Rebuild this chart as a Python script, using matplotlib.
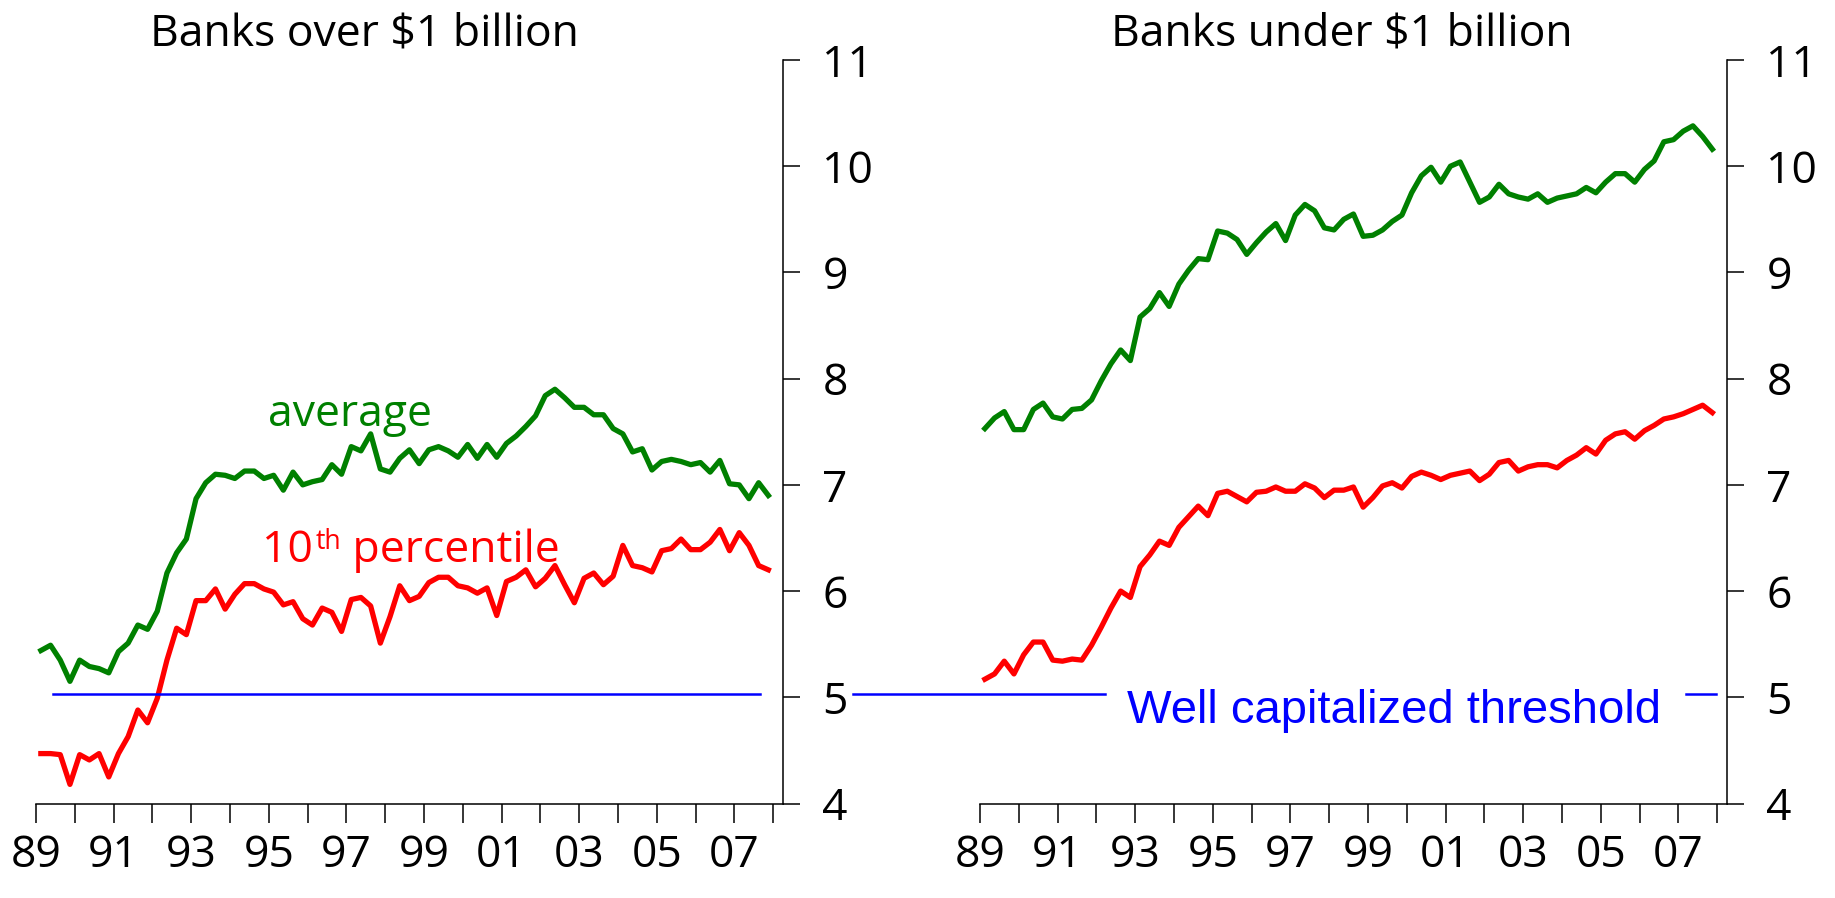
import matplotlib
matplotlib.use("Agg")
import matplotlib.pyplot as plt
from matplotlib import font_manager as fm
import pandas as pd

# ---------------- data ----------------
quarters = pd.period_range("1989Q1", "2007Q4", freq="Q")

big_average = [5.44, 5.49, 5.35, 5.15, 5.35, 5.29, 5.27, 5.23, 5.43, 5.51,
               5.68, 5.64, 5.81, 6.17, 6.36, 6.49, 6.87, 7.02, 7.10, 7.09,
               7.06, 7.13, 7.13, 7.06, 7.09, 6.95, 7.12, 7.00, 7.03, 7.05,
               7.19, 7.10, 7.36, 7.32, 7.48, 7.15, 7.12, 7.25, 7.33, 7.20,
               7.33, 7.36, 7.32, 7.26, 7.38, 7.25, 7.38, 7.26, 7.39, 7.46,
               7.55, 7.65, 7.84, 7.90, 7.82, 7.73, 7.73, 7.66, 7.66, 7.53,
               7.48, 7.31, 7.34, 7.14, 7.22, 7.24, 7.22, 7.19, 7.21, 7.12,
               7.23, 7.01, 7.00, 6.87, 7.02, 6.90]
big_p10 = [4.47, 4.47, 4.46, 4.18, 4.46, 4.41, 4.47, 4.25, 4.47, 4.63,
           4.88, 4.76, 4.99, 5.35, 5.65, 5.59, 5.91, 5.91, 6.02, 5.83,
           5.97, 6.07, 6.07, 6.02, 5.99, 5.87, 5.90, 5.74, 5.68, 5.84,
           5.80, 5.62, 5.92, 5.94, 5.86, 5.51, 5.76, 6.05, 5.91, 5.95,
           6.08, 6.13, 6.13, 6.05, 6.03, 5.98, 6.03, 5.77, 6.09, 6.13,
           6.20, 6.04, 6.12, 6.24, 6.06, 5.89, 6.12, 6.17, 6.06, 6.14,
           6.43, 6.24, 6.22, 6.18, 6.38, 6.40, 6.49, 6.39, 6.39, 6.46,
           6.58, 6.38, 6.55, 6.43, 6.24, 6.20]
small_average = [7.53, 7.63, 7.69, 7.52, 7.52, 7.71, 7.77, 7.64, 7.62, 7.71,
                 7.72, 7.80, 7.98, 8.14, 8.27, 8.17, 8.58, 8.66, 8.81, 8.68,
                 8.89, 9.02, 9.13, 9.12, 9.39, 9.37, 9.31, 9.17, 9.28, 9.38,
                 9.46, 9.30, 9.54, 9.64, 9.58, 9.42, 9.40, 9.50, 9.55, 9.34,
                 9.35, 9.40, 9.48, 9.54, 9.75, 9.91, 9.99, 9.85, 10.00, 10.04,
                 9.85, 9.66, 9.71, 9.83, 9.74, 9.71, 9.69, 9.74, 9.66, 9.70,
                 9.72, 9.74, 9.80, 9.75, 9.85, 9.93, 9.93, 9.85, 9.97, 10.05,
                 10.23, 10.25, 10.33, 10.38, 10.28, 10.16]
small_p10 = [5.17, 5.22, 5.34, 5.22, 5.40, 5.52, 5.52, 5.35, 5.34, 5.36,
             5.35, 5.49, 5.66, 5.84, 6.00, 5.94, 6.23, 6.34, 6.47, 6.43,
             6.60, 6.70, 6.80, 6.71, 6.92, 6.94, 6.89, 6.84, 6.93, 6.94,
             6.98, 6.94, 6.94, 7.01, 6.97, 6.88, 6.95, 6.95, 6.98, 6.79,
             6.88, 6.99, 7.02, 6.97, 7.08, 7.12, 7.09, 7.05, 7.09, 7.11,
             7.13, 7.04, 7.10, 7.21, 7.23, 7.13, 7.17, 7.19, 7.19, 7.16,
             7.23, 7.28, 7.35, 7.29, 7.42, 7.48, 7.50, 7.43, 7.51, 7.56,
             7.62, 7.64, 7.67, 7.71, 7.75, 7.68]
threshold = 5.03

panel_titles = ["Banks over $1 billion", "Banks under $1 billion"]
year_ticks = list(range(1989, 2009))
year_labels = ["89", "91", "93", "95", "97", "99", "01", "03", "05", "07"]
y_ticks = [4, 5, 6, 7, 8, 9, 10, 11]

# ---------------- fonts ----------------
names = {f.name for f in fm.fontManager.ttflist}
MAIN = "Open Sans" if "Open Sans" in names else "DejaVu Sans"
if "Liberation Sans Narrow" in names:
    NARROW, NARROW_SIZE = "Liberation Sans Narrow", 39
else:
    NARROW, NARROW_SIZE = "Liberation Sans", 34
plt.rcParams["font.family"] = [MAIN, "DejaVu Sans"]

GREEN = "#008000"
RED = "#ff0000"
BLUE = "#0000ff"
FS = 32

x = [p.year + (p.quarter - 0.5) / 4 for p in quarters]

W, H = 1835, 898
fig = plt.figure(figsize=(W / 100, H / 100), dpi=100)

XMIN, XMAX = 1989, 2008.245
y_bot = (H - 803.5) / H
y_top = (H - 60) / H
ax1 = fig.add_axes([36 / W, y_bot, (782.7 - 36) / W, y_top - y_bot])
ax2 = fig.add_axes([980 / W, y_bot, (1726.7 - 980) / W, y_top - y_bot])

full_labels = []
k = 0
for yr in year_ticks:
    if (yr - 1989) % 2 == 0 and k < len(year_labels):
        full_labels.append(year_labels[k]); k += 1
    else:
        full_labels.append("")

for ax in (ax1, ax2):
    ax.set_xlim(XMIN, XMAX)
    ax.set_ylim(4, 11)
    for s in ("left", "top"):
        ax.spines[s].set_visible(False)
    for s in ("right", "bottom"):
        ax.spines[s].set_linewidth(1.1)
    ax.yaxis.tick_right()
    ax.set_yticks(y_ticks)
    ax.set_yticklabels([str(v) for v in y_ticks])
    ax.set_xticks(year_ticks)
    ax.set_xticklabels(full_labels)
    ax.tick_params(axis="y", direction="out", length=12.5, width=1.1,
                   pad=16, labelsize=FS)
    ax.tick_params(axis="x", direction="out", length=13.5, width=1.1,
                   pad=8, labelsize=FS)
    ax.patch.set_visible(False)

lw = 3.8
ax1.plot(x, big_average, color=GREEN, lw=lw, solid_joinstyle="round", clip_on=False)
ax1.plot(x, big_p10, color=RED, lw=lw, solid_joinstyle="round", clip_on=False)
ax2.plot(x, small_average, color=GREEN, lw=lw, solid_joinstyle="round", clip_on=False)
ax2.plot(x, small_p10, color=RED, lw=lw, solid_joinstyle="round", clip_on=False)

# threshold lines
blw = 1.8
ax1.plot([1989.44, 2007.66], [threshold, threshold], color=BLUE, lw=blw, clip_on=False)
ax2.plot([1985.73, 1992.21], [threshold, threshold], color=BLUE, lw=blw, clip_on=False)
ax2.plot([2007.20, 2007.97], [threshold, threshold], color=BLUE, lw=blw, clip_on=False)

ax2.text(1992.79, 4.76, "Well capitalized threshold", color=BLUE,
         fontsize=NARROW_SIZE, family=[NARROW, "DejaVu Sans"],
         ha="left", va="baseline")

# series labels (left panel)
ax1.text(1997.09, 7.553, "average", color=GREEN, fontsize=FS,
         ha="center", va="baseline")
t10 = ax1.text(1994.82, 6.275, "10", color=RED, fontsize=FS,
               ha="left", va="baseline")
tth = ax1.annotate("th", xy=(1, 1), xycoords=t10, xytext=(2, 0),
                   textcoords="offset points", color=RED, fontsize=FS * 0.6,
                   ha="left", va="top")
ax1.annotate(" percentile", xy=(1, 0), xycoords=(tth, t10), color=RED,
             fontsize=FS, ha="left", va="bottom")

# titles
fig.text(364 / W, 1 - 45 / H, panel_titles[0], fontsize=FS,
         ha="center", va="baseline")
fig.text(1342 / W, 1 - 45 / H, panel_titles[1], fontsize=FS,
         ha="center", va="baseline")

fig.savefig("out.png", dpi=100)
